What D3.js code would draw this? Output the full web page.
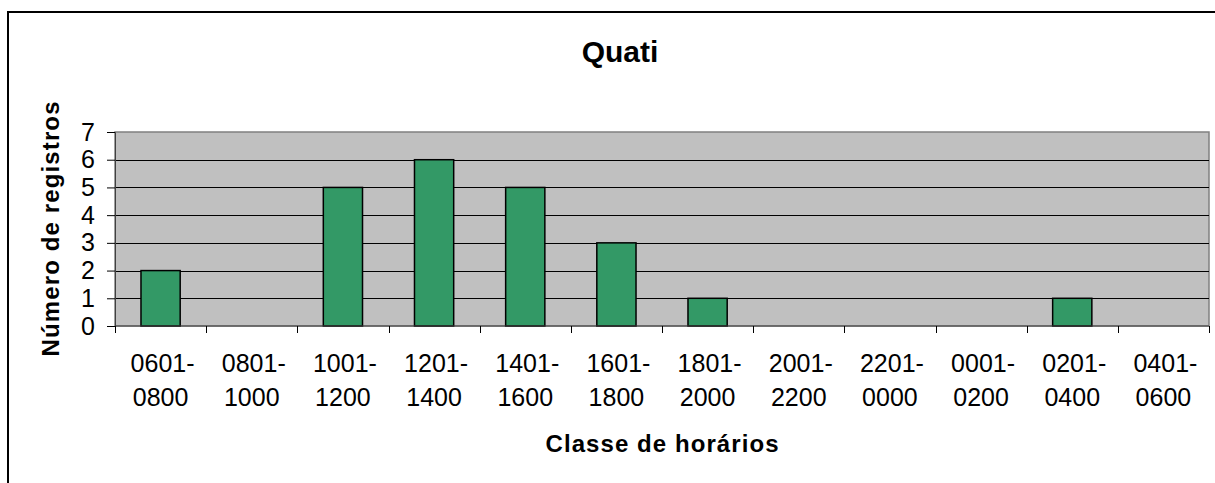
<!DOCTYPE html>
<html>
<head>
<meta charset="utf-8">
<script src="https://cdn.jsdelivr.net/npm/d3@7"></script>
<style>
  body { margin: 0; background: #fff; }
  svg { display: block; font-family: Arial, "Liberation Sans", sans-serif; }
</style>
</head>
<body>
<svg id="chart" width="1215" height="483"></svg>
<script>
// data
var classes = ["0601-0800", "0801-1000", "1001-1200", "1201-1400", "1401-1600", "1601-1800",
               "1801-2000", "2001-2200", "2201-0000", "0001-0200", "0201-0400", "0401-0600"];
var registros = [2, 0, 5, 6, 5, 3, 1, 0, 0, 0, 1, 0];
var yTicks = [0, 1, 2, 3, 4, 5, 6, 7];

var svg = d3.select("#chart");

// outer chart frame (cut off at right and bottom)
svg.append("rect")
    .attr("x", 8).attr("y", 12)
    .attr("width", 1300).attr("height", 600)
    .attr("fill", "#fff")
    .attr("stroke", "#000")
    .attr("stroke-width", 2);

var plot = { left: 115, top: 132, right: 1209, bottom: 326 };

var x = d3.scaleBand()
    .domain(classes)
    .range([plot.left, plot.right])
    .padding(0);

var y = d3.scaleLinear()
    .domain([0, 7])
    .range([plot.bottom, plot.top]);

// plot background
svg.append("rect")
    .attr("x", plot.left).attr("y", plot.top)
    .attr("width", plot.right - plot.left)
    .attr("height", plot.bottom - plot.top)
    .attr("fill", "#c0c0c0")
    .attr("stroke", "#808080")
    .attr("stroke-width", 1.5);

// gridlines
svg.append("g")
    .selectAll("line")
    .data(yTicks.filter(function (d) { return d > 0 && d < 7; }))
    .enter()
    .append("line")
    .attr("x1", plot.left).attr("x2", plot.right)
    .attr("y1", function (d) { return Math.round(y(d)) + 0.5; })
    .attr("y2", function (d) { return Math.round(y(d)) + 0.5; })
    .attr("stroke", "#000")
    .attr("stroke-width", 1);

// bars
var barW = x.bandwidth() * 0.43;
svg.append("g")
    .selectAll("rect")
    .data(registros.map(function (v, i) { return { c: classes[i], v: v }; }).filter(function (d) { return d.v > 0; }))
    .enter()
    .append("rect")
    .attr("x", function (d) { return x(d.c) + (x.bandwidth() - barW) / 2; })
    .attr("y", function (d) { return y(d.v); })
    .attr("width", barW)
    .attr("height", function (d) { return y(0) - y(d.v); })
    .attr("fill", "#339966")
    .attr("stroke", "#000")
    .attr("stroke-width", 1.5);

// y axis
var yAxis = svg.append("g")
    .attr("transform", "translate(" + plot.left + ",0)")
    .call(d3.axisLeft(y).tickValues(yTicks).tickSize(8).tickPadding(12).tickFormat(d3.format("d")));
yAxis.select(".domain").attr("stroke", "#404040");
yAxis.selectAll(".tick line").attr("stroke", "#000");
yAxis.selectAll(".tick text")
    .attr("font-size", 25)
    .attr("font-family", "Arial, 'Liberation Sans', sans-serif")
    .attr("fill", "#000");

// x axis: ticks at category boundaries
svg.append("line")
    .attr("x1", plot.left).attr("x2", plot.right)
    .attr("y1", plot.bottom).attr("y2", plot.bottom)
    .attr("stroke", "#404040");
var bounds = classes.map(function (c) { return x(c); }).concat([plot.right]);
svg.append("g")
    .selectAll("line")
    .data(bounds)
    .enter()
    .append("line")
    .attr("x1", function (d) { return Math.round(d) + 0.5; })
    .attr("x2", function (d) { return Math.round(d) + 0.5; })
    .attr("y1", plot.bottom).attr("y2", plot.bottom + 7)
    .attr("stroke", "#000");

var labels = svg.append("g")
    .selectAll("text")
    .data(classes)
    .enter()
    .append("text")
    .attr("text-anchor", "middle")
    .attr("font-size", 25)
    .attr("fill", "#000");
labels.append("tspan")
    .attr("x", function (d) { return x(d) + x.bandwidth() / 2 + 2; })
    .attr("y", 372)
    .text(function (d) { return d.split("-")[0] + "-"; });
labels.append("tspan")
    .attr("x", function (d) { return x(d) + x.bandwidth() / 2; })
    .attr("y", 406)
    .text(function (d) { return d.split("-")[1]; });

// titles
svg.append("text")
    .attr("x", 620).attr("y", 62)
    .attr("text-anchor", "middle")
    .attr("font-size", 30)
    .attr("font-weight", "bold")
    .text("Quati");

svg.append("text")
    .attr("x", (plot.left + plot.right) / 2).attr("y", 452)
    .attr("text-anchor", "middle")
    .attr("font-size", 24)
    .attr("font-weight", "bold")
    .attr("textLength", 233)
    .attr("lengthAdjust", "spacing")
    .text("Classe de horários");

svg.append("text")
    .attr("transform", "translate(59," + (plot.top + plot.bottom) / 2 + ") rotate(-90)")
    .attr("text-anchor", "middle")
    .attr("font-size", 24)
    .attr("font-weight", "bold")
    .attr("textLength", 255)
    .attr("lengthAdjust", "spacing")
    .text("Número de registros");
</script>
</body>
</html>
